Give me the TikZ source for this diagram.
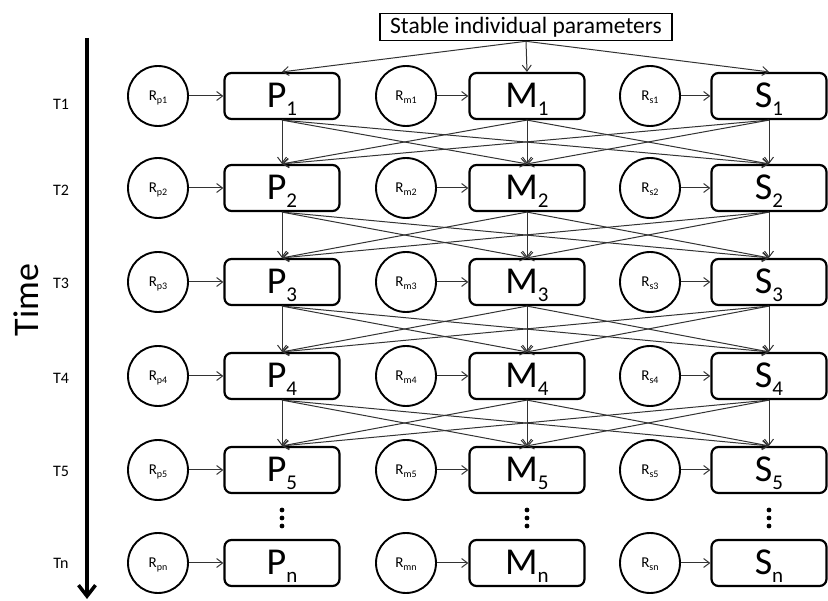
\documentclass[tikz,border=0pt]{standalone}
\usepackage{fontspec}
\setmainfont{Carlito}
\usetikzlibrary{arrows.meta}
\newcommand{\bigsub}[1]{\raisebox{-8pt}{\fontsize{21}{21}\selectfont #1}}
\newcommand{\smallsub}[1]{\raisebox{-3pt}{\fontsize{10}{10}\selectfont #1}}

\begin{document}
\begin{tikzpicture}[x=1pt,y=-1pt,
  state/.style={draw,line width=2.2pt,rounded corners=7pt,minimum width=115pt,minimum height=46pt,inner sep=0pt,
    font=\fontsize{38}{38}\selectfont,text height=24pt,text depth=0pt},
  res/.style={draw,circle,line width=1.9pt,minimum size=60pt,inner sep=0pt,
    font=\fontsize{15}{15}\selectfont,text height=9.5pt,text depth=0pt},
  arr/.style={black!80,line width=1pt,-{Straight Barb[length=6pt,width=9pt]}},
  tlab/.style={font=\fontsize{16}{16}\selectfont,inner sep=0pt}]
  \useasboundingbox (0,0) rectangle (828,601);
  %TIME AXIS
  \coordinate (top) at (87,38);
  \coordinate (bot) at (87,599);
  \draw[line width=3.5pt,-{Straight Barb[length=11pt,width=17pt]}] (top) -- (bot);
  \node[rotate=90,font=\fontsize{36}{36}\selectfont,inner sep=0pt] (time) at (26,300) {Time};
  \node[tlab] (T1) at (61,104) {T1};
  \node[tlab] (T2) at (61,190) {T2};
  \node[tlab] (T3) at (61,283) {T3};
  \node[tlab] (T4) at (61,378) {T4};
  \node[tlab] (T5) at (61,471) {T5};
  \node[tlab] (Tn) at (61,563) {Tn};

  %STABLE PARAMETERS
  \node[draw,line width=1.6pt,minimum width=292pt,minimum height=27pt,inner sep=0pt,
    font=\fontsize{23.5}{23.5}\selectfont] (stab) at (526,27) {Stable individual parameters};

  %ROW 1
  \node[res] (Rp1) at (158,96) {R\smallsub{p1}};
  \node[state] (P1) at (282,96) {P\bigsub{1}};
  \node[res] (Rm1) at (406,96) {R\smallsub{m1}};
  \node[state] (M1) at (527,96) {M\bigsub{1}};
  \node[res] (Rs1) at (650,96) {R\smallsub{s1}};
  \node[state] (S1) at (769,96) {S\bigsub{1}};
  %ROW 2
  \node[res] (Rp2) at (158,188) {R\smallsub{p2}};
  \node[state] (P2) at (282,188) {P\bigsub{2}};
  \node[res] (Rm2) at (406,188) {R\smallsub{m2}};
  \node[state] (M2) at (527,188) {M\bigsub{2}};
  \node[res] (Rs2) at (650,188) {R\smallsub{s2}};
  \node[state] (S2) at (769,188) {S\bigsub{2}};
  %ROW 3
  \node[res] (Rp3) at (158,282) {R\smallsub{p3}};
  \node[state] (P3) at (282,282) {P\bigsub{3}};
  \node[res] (Rm3) at (406,282) {R\smallsub{m3}};
  \node[state] (M3) at (527,282) {M\bigsub{3}};
  \node[res] (Rs3) at (650,282) {R\smallsub{s3}};
  \node[state] (S3) at (769,282) {S\bigsub{3}};
  %ROW 4
  \node[res] (Rp4) at (158,376) {R\smallsub{p4}};
  \node[state] (P4) at (282,376) {P\bigsub{4}};
  \node[res] (Rm4) at (406,376) {R\smallsub{m4}};
  \node[state] (M4) at (527,376) {M\bigsub{4}};
  \node[res] (Rs4) at (650,376) {R\smallsub{s4}};
  \node[state] (S4) at (769,376) {S\bigsub{4}};
  %ROW 5
  \node[res] (Rp5) at (158,470) {R\smallsub{p5}};
  \node[state] (P5) at (282,470) {P\bigsub{5}};
  \node[res] (Rm5) at (406,470) {R\smallsub{m5}};
  \node[state] (M5) at (527,470) {M\bigsub{5}};
  \node[res] (Rs5) at (650,470) {R\smallsub{s5}};
  \node[state] (S5) at (769,470) {S\bigsub{5}};
  %ROW n
  \node[res] (Rpn) at (158,563) {R\smallsub{pn}};
  \node[state] (Pn) at (282,563) {P\bigsub{n}};
  \node[res] (Rmn) at (406,563) {R\smallsub{mn}};
  \node[state] (Mn) at (527,563) {M\bigsub{n}};
  \node[res] (Rsn) at (650,563) {R\smallsub{sn}};
  \node[state] (Sn) at (769,563) {S\bigsub{n}};

  %DOTS
  \fill (282,510) circle (2.4) (282,518) circle (2.4) (282,526) circle (2.4);
  \fill (527,510) circle (2.4) (527,518) circle (2.4) (527,526) circle (2.4);
  \fill (769,510) circle (2.4) (769,518) circle (2.4) (769,526) circle (2.4);

  %STABLE -> ROW 1
  \draw[arr] (stab.south) -- (P1.north);
  \draw[arr] (stab.south) -- (M1.north);
  \draw[arr] (stab.south) -- (S1.north);

  %R -> STATES
  \draw[arr] (Rp1) -- (P1); \draw[arr] (Rm1) -- (M1); \draw[arr] (Rs1) -- (S1);
  \draw[arr] (Rp2) -- (P2); \draw[arr] (Rm2) -- (M2); \draw[arr] (Rs2) -- (S2);
  \draw[arr] (Rp3) -- (P3); \draw[arr] (Rm3) -- (M3); \draw[arr] (Rs3) -- (S3);
  \draw[arr] (Rp4) -- (P4); \draw[arr] (Rm4) -- (M4); \draw[arr] (Rs4) -- (S4);
  \draw[arr] (Rp5) -- (P5); \draw[arr] (Rm5) -- (M5); \draw[arr] (Rs5) -- (S5);
  \draw[arr] (Rpn) -- (Pn); \draw[arr] (Rmn) -- (Mn); \draw[arr] (Rsn) -- (Sn);

  %T1 -> T2
  \draw[arr] (P1.south) -- (P2.north); \draw[arr] (P1.south) -- (M2.north); \draw[arr] (P1.south) -- (S2.north);
  \draw[arr] (M1.south) -- (P2.north); \draw[arr] (M1.south) -- (M2.north); \draw[arr] (M1.south) -- (S2.north);
  \draw[arr] (S1.south) -- (P2.north); \draw[arr] (S1.south) -- (M2.north); \draw[arr] (S1.south) -- (S2.north);
  %T2 -> T3
  \draw[arr] (P2.south) -- (P3.north); \draw[arr] (P2.south) -- (M3.north); \draw[arr] (P2.south) -- (S3.north);
  \draw[arr] (M2.south) -- (P3.north); \draw[arr] (M2.south) -- (M3.north); \draw[arr] (M2.south) -- (S3.north);
  \draw[arr] (S2.south) -- (P3.north); \draw[arr] (S2.south) -- (M3.north); \draw[arr] (S2.south) -- (S3.north);
  %T3 -> T4
  \draw[arr] (P3.south) -- (P4.north); \draw[arr] (P3.south) -- (M4.north); \draw[arr] (P3.south) -- (S4.north);
  \draw[arr] (M3.south) -- (P4.north); \draw[arr] (M3.south) -- (M4.north); \draw[arr] (M3.south) -- (S4.north);
  \draw[arr] (S3.south) -- (P4.north); \draw[arr] (S3.south) -- (M4.north); \draw[arr] (S3.south) -- (S4.north);
  %T4 -> T5
  \draw[arr] (P4.south) -- (P5.north); \draw[arr] (P4.south) -- (M5.north); \draw[arr] (P4.south) -- (S5.north);
  \draw[arr] (M4.south) -- (P5.north); \draw[arr] (M4.south) -- (M5.north); \draw[arr] (M4.south) -- (S5.north);
  \draw[arr] (S4.south) -- (P5.north); \draw[arr] (S4.south) -- (M5.north); \draw[arr] (S4.south) -- (S5.north);
\end{tikzpicture}
\end{document}
